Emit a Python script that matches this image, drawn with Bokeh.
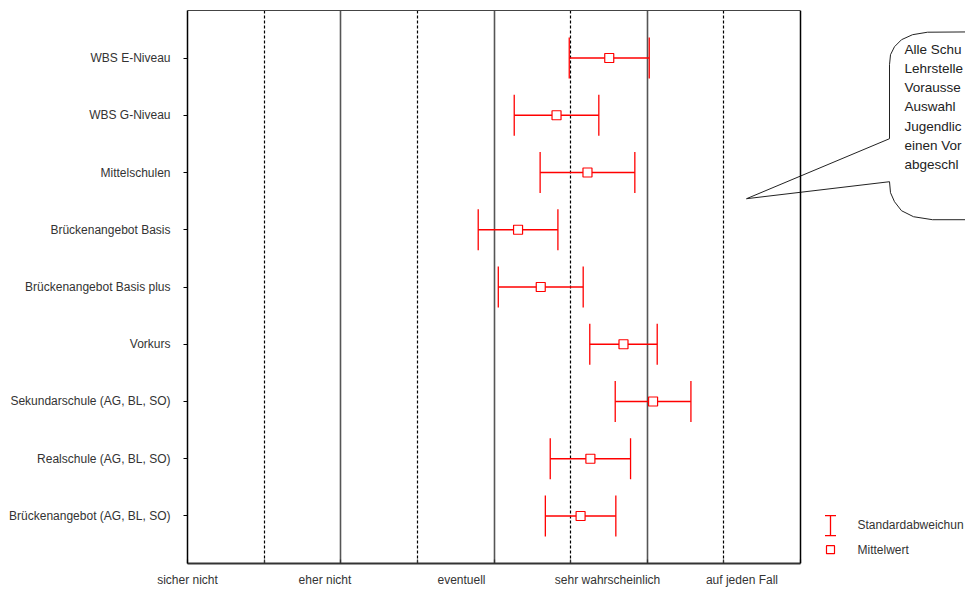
from bokeh.plotting import figure
from bokeh.models import (Range1d, FixedTicker, LinearAxis, Grid, Span, Whisker,
                          TeeHead, ColumnDataSource)
from bokeh.core.properties import value
from bokeh.embed import file_html
from bokeh.resources import INLINE

# ---------------- data ----------------
categories = [
    "WBS E-Niveau",
    "WBS G-Niveau",
    "Mittelschulen",
    "Brückenangebot Basis",
    "Brückenangebot Basis plus",
    "Vorkurs",
    "Sekundarschule (AG, BL, SO)",
    "Realschule (AG, BL, SO)",
    "Brückenangebot (AG, BL, SO)",
]
means = [3.752, 3.408, 3.610, 3.157, 3.305, 3.845, 4.038, 3.629, 3.565]
sds = [0.261, 0.276, 0.309, 0.260, 0.277, 0.220, 0.247, 0.262, 0.230]

scale_labels = ["sicher nicht", "eher nicht", "eventuell", "sehr wahrscheinlich", "auf jeden Fall"]
scale_label_pos = [1.0, 1.897, 2.788, 3.741, 4.618]
scale_minor_ticks = [1.0, 1.5, 2.0, 2.5, 3.0, 3.5, 4.0, 4.5, 5.0]
solid_grid = [2.0, 3.0, 4.0]
dashed_grid = [1.5, 2.5, 3.5, 4.5]

legend_labels = ["Standardabweichun", "Mittelwert"]
# the reference shows the callout text cut off at the right edge
note_lines = ["Alle Schu", "Lehrstelle", "Vorausse", "Auswahl",
              "Jugendlic", "einen Vor", "abgeschl"]

FONT = "Liberation Sans"
RED = "#ff0000"

n = len(categories)
ys = [n - i for i in range(n)]
lo = [m - s for m, s in zip(means, sds)]
hi = [m + s for m, s in zip(means, sds)]

# helpers to place decorations (callout, legend) relative to the plot box
X0, XU, Y0, YU = 187.0, 153.25, 57.3, 57.25


def px_x(px):
    return 1 + (px - X0) / XU


def px_y(py):
    return n - (py - Y0) / YU


W, H = 965, 589
p = figure(width=W, height=H,
           x_range=Range1d(1, px_x(W)), y_range=Range1d(0.17, 9.83),
           output_backend="svg", toolbar_location=None,
           x_axis_type=None, y_axis_type=None,
           min_border_left=187, min_border_right=0,
           min_border_top=10, min_border_bottom=26)
p.outline_line_color = None
p.background_fill_color = "white"
p.border_fill_color = "white"

# grids
p.add_layout(Grid(dimension=0, ticker=FixedTicker(ticks=solid_grid),
                  grid_line_color="#555555", grid_line_width=1.6))
p.add_layout(Grid(dimension=0, ticker=FixedTicker(ticks=dashed_grid),
                  grid_line_color="black", grid_line_width=1.2, grid_line_dash="3 2"))

# bottom axis
xaxis = LinearAxis(
    ticker=FixedTicker(ticks=scale_label_pos, minor_ticks=scale_minor_ticks),
    bounds=(1, 5),
    major_label_overrides={pos: lab for pos, lab in zip(scale_label_pos, scale_labels)},
    major_tick_in=0, major_tick_out=0, minor_tick_in=4, minor_tick_out=0,
    axis_line_color="#333333", axis_line_width=2, minor_tick_line_color="#333333",
    minor_tick_line_width=1.2,
    major_label_standoff=9, major_label_text_font=FONT,
    major_label_text_font_size="12px", major_label_text_color="#333333")
p.add_layout(xaxis, "below")

# top border
top = LinearAxis(ticker=FixedTicker(ticks=[]), bounds=(1, 5),
                 major_label_text_font_size="0px", major_tick_in=0, major_tick_out=0,
                 minor_tick_in=0, minor_tick_out=0, major_label_standoff=0,
                 axis_line_color="#444444", axis_line_width=1.2)
p.add_layout(top, "above")

# left axis
yaxis = LinearAxis(ticker=FixedTicker(ticks=ys),
                   major_label_overrides={y: c for y, c in zip(ys, categories)},
                   major_tick_in=0, major_tick_out=4, minor_tick_in=0, minor_tick_out=0,
                   major_tick_line_color="black", axis_line_color="black",
                   axis_line_width=1.5, major_label_standoff=13,
                   major_label_text_font=FONT, major_label_text_font_size="12px",
                   major_label_text_color="#333333")
p.add_layout(yaxis, "left")

# right border
p.add_layout(Span(location=5, dimension="height", line_color="black", line_width=1.5))

# error bars + means
src = ColumnDataSource(dict(y=ys, mean=means, lo=lo, hi=hi))
whisk = Whisker(source=src, base="y", lower="lo", upper="hi", dimension="width",
                line_color=RED, line_width=1.3, level="underlay",
                upper_head=TeeHead(size=41, line_color=RED, line_width=1.3),
                lower_head=TeeHead(size=41, line_color=RED, line_width=1.3))
p.add_layout(whisk)
p.scatter("mean", "y", source=src, marker="square", size=9,
          line_color=RED, fill_color="white", line_width=1.2)

# callout bubble
bub_px = [(746, 198), (889, 138), (889, 64), (890, 54), (894, 46), (901, 39),
          (912, 34), (927, 31.5), (1000, 31), (1000, 219), (932, 219),
          (913, 216), (901, 210), (894, 201), (890, 192), (889, 181)]
p.patch([px_x(a) for a, b in bub_px], [px_y(b) for a, b in bub_px],
        fill_color="white", line_color="#222222", line_width=1)
note_y_px = [49, 68, 87, 106, 126, 145, 164]
p.text(x=[px_x(904)] * len(note_lines), y=[px_y(v) for v in note_y_px], text=note_lines,
       text_font=value(FONT), text_font_size=value("13.5px"), text_color="#222222",
       text_baseline="middle", text_align="left")

# legend (drawn manually to show the error-bar symbol)
lsrc = ColumnDataSource(dict(x=[px_x(830)], lo=[px_y(535)], hi=[px_y(515)]))
p.add_layout(Whisker(source=lsrc, base="x", lower="lo", upper="hi", dimension="height",
                     line_color=RED, line_width=1.3,
                     upper_head=TeeHead(size=11, line_color=RED, line_width=1.3),
                     lower_head=TeeHead(size=11, line_color=RED, line_width=1.3)))
p.scatter(x=[px_x(830)], y=[px_y(549)], marker="square", size=8,
          line_color=RED, fill_color="white", line_width=1.2)
p.text(x=[px_x(857)] * 2, y=[px_y(524.5), px_y(549.3)], text=legend_labels,
       text_font=value(FONT), text_font_size=value("12px"), text_color="#333333",
       text_baseline="middle", text_align="left")

open("out.html", "w").write(file_html(p, INLINE))
